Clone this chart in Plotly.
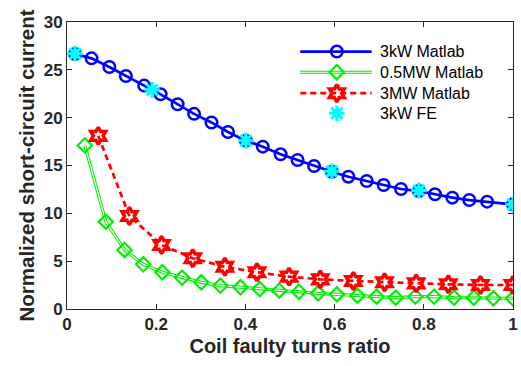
import plotly.graph_objects as go

# 3kW machine, analytical model (Matlab)
x_3kw = [0.018, 0.055, 0.095, 0.132, 0.173, 0.210, 0.248, 0.285, 0.324, 0.361,
         0.401, 0.439, 0.479, 0.517, 0.554, 0.594, 0.631, 0.672, 0.710, 0.749,
         0.789, 0.825, 0.864, 0.902, 0.942, 1.0]
y_3kw = [26.65, 26.2, 25.3, 24.35, 23.35, 22.44, 21.4, 20.4, 19.5, 18.5,
         17.6, 16.97, 16.17, 15.57, 14.95, 14.35, 13.83, 13.38, 12.96, 12.54,
         12.33, 11.99, 11.64, 11.39, 11.22, 10.94]

# 0.5MW machine, analytical model (Matlab)
x_05mw = [0.040, 0.087, 0.129, 0.171, 0.214, 0.258, 0.301, 0.344, 0.389, 0.432,
          0.476, 0.520, 0.563, 0.605, 0.651, 0.694, 0.737, 0.781, 0.823, 0.868,
          0.912, 0.956, 1.0]
y_05mw = [17.1, 9.13, 6.17, 4.67, 3.84, 3.28, 2.79, 2.44, 2.27, 2.09,
          1.92, 1.81, 1.64, 1.53, 1.39, 1.29, 1.18, 1.29, 1.29, 1.18,
          1.18, 1.12, 1.12]

# 3MW machine, analytical model (Matlab)
x_3mw = [0.070, 0.140, 0.212, 0.282, 0.354, 0.426, 0.498, 0.568, 0.642, 0.712,
         0.783, 0.855, 0.927, 1.0]
y_3mw = [18.1, 9.72, 6.69, 5.3, 4.42, 3.84, 3.38, 3.1, 2.93, 2.79,
         2.68, 2.58, 2.51, 2.51]

# 3kW machine, finite element results
x_fe = [0.018, 0.191, 0.401, 0.594, 0.789, 1.0]
y_fe = [26.7, 22.9, 17.6, 14.4, 12.4, 10.9]

legend_names = ["3kW Matlab", "0.5MW Matlab", "3MW Matlab", "3kW FE"]

BLUE = "#0000FF"
GREEN = "#00EE00"
RED = "#FF0000"
CYAN = "#00FFFF"
FONT = "Liberation Sans"

styles = [
    dict(line=dict(color=BLUE, width=2.7),
         marker=dict(symbol="circle-open", size=11.5, color=BLUE, line=dict(width=2.5, color=BLUE)),
         mode="lines+markers"),
    dict(line=dict(color=GREEN, width=3.2),
         marker=dict(symbol="diamond-open", size=11, color=GREEN, line=dict(width=2.2, color=GREEN)),
         mode="lines+markers"),
    dict(line=dict(color=RED, width=2.7, dash="6px,4px"),
         marker=dict(symbol="hexagram-open", size=13, color=RED, line=dict(width=3.5, color=RED)),
         mode="lines+markers"),
    dict(marker=dict(symbol="asterisk-open", size=13, color=CYAN, line=dict(width=3.2, color=CYAN)),
         mode="markers"),
]

fig = go.Figure()

# 0.5MW curve: green line with a thin white core (double-line look)
fig.add_trace(go.Scatter(x=x_05mw, y=y_05mw, mode="lines", line=styles[1]["line"],
                         showlegend=False, hoverinfo="skip"))
fig.add_trace(go.Scatter(x=x_05mw, y=y_05mw, mode="lines", line=dict(color="white", width=1.1),
                         showlegend=False, hoverinfo="skip"))
fig.add_trace(go.Scatter(x=x_05mw, y=y_05mw, mode="markers", marker=styles[1]["marker"],
                         name=legend_names[1], showlegend=False))

fig.add_trace(go.Scatter(x=x_3mw, y=y_3mw, name=legend_names[2], showlegend=False, **styles[2]))
fig.add_trace(go.Scatter(x=x_3kw, y=y_3kw, name=legend_names[0], showlegend=False, **styles[0]))
fig.add_trace(go.Scatter(x=x_fe, y=y_fe, name=legend_names[3], showlegend=False, **styles[3]))

# Hand-built legend on an overlay axis spanning the plot area (0..1 both ways)
leg_x0, leg_x1, leg_xm, leg_tx = 0.523, 0.683, 0.605, 0.698
leg_rows = [0.897, 0.825, 0.752, 0.682]
for i, (name, yy) in enumerate(zip(legend_names, leg_rows)):
    st = styles[i]
    if "line" in st:
        fig.add_trace(go.Scatter(x=[leg_x0, leg_x1], y=[yy, yy], mode="lines", line=st["line"],
                                 xaxis="x2", yaxis="y2", showlegend=False, hoverinfo="skip"))
        if i == 1:
            fig.add_trace(go.Scatter(x=[leg_x0, leg_x1], y=[yy, yy], mode="lines",
                                     line=dict(color="white", width=1.1),
                                     xaxis="x2", yaxis="y2", showlegend=False, hoverinfo="skip"))
    fig.add_trace(go.Scatter(x=[leg_xm], y=[yy], mode="markers", marker=st["marker"],
                             xaxis="x2", yaxis="y2", showlegend=False, hoverinfo="skip"))
    fig.add_annotation(x=leg_tx, y=yy, xref="x2", yref="y2", text=name, showarrow=False,
                       xanchor="left", yanchor="middle",
                       font=dict(family=FONT, size=16, color="#000000"))

axis_common = dict(
    showgrid=False, zeroline=False, showline=True, mirror="allticks",
    linecolor="#262626", linewidth=1, ticks="inside", ticklen=5, tickcolor="#262626",
    tickfont=dict(family=FONT, size=17, color="#262626", weight="bold"),
    ticklabeloverflow="allow",
)

fig.update_layout(
    width=521, height=366,
    margin=dict(l=67, r=3, t=22, b=57),
    paper_bgcolor="white", plot_bgcolor="white",
    showlegend=False,
    xaxis=dict(range=[0, 1], tickvals=[0, 0.2, 0.4, 0.6, 0.8, 1],
               ticktext=["0", "0.2", "0.4", "0.6", "0.8", "1"],
               title=dict(text="Coil faulty turns ratio", standoff=5,
                          font=dict(family=FONT, size=20, color="#262626", weight="bold")),
               **axis_common),
    yaxis=dict(range=[0, 30], tickvals=[0, 5, 10, 15, 20, 25, 30],
               title=dict(text="Normalized short-circuit current", standoff=3,
                          font=dict(family=FONT, size=20.5, color="#262626", weight="bold")),
               **axis_common),
    xaxis2=dict(range=[0, 1], overlaying="x", visible=False, domain=[0, 1]),
    yaxis2=dict(range=[0, 1], overlaying="y", visible=False, domain=[0, 1]),
)

fig.write_html("out.html")
